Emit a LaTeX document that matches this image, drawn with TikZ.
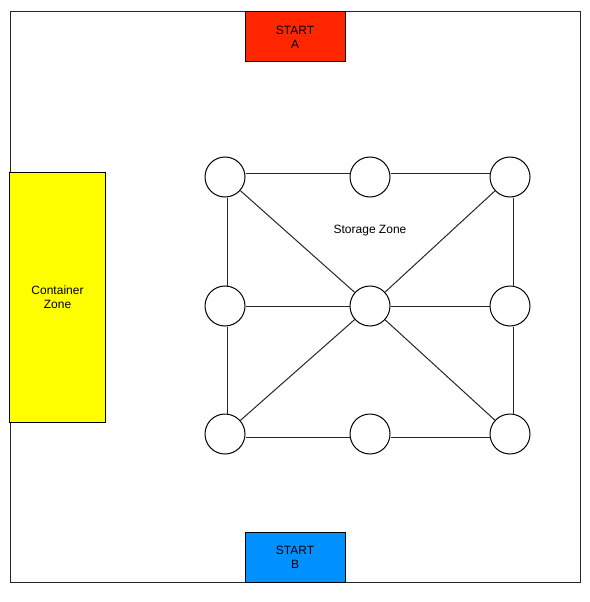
\documentclass[tikz,border=0pt]{standalone}
\usepackage{fontspec}
\setmainfont{Liberation Sans}
\definecolor{startred}{HTML}{FF2600}
\definecolor{startblue}{HTML}{0091FF}
\definecolor{zoneyellow}{HTML}{FFFF00}
\begin{document}
\begin{tikzpicture}[x=1bp,y=-1bp,
  every node/.style={font=\fontsize{12bp}{14bp}\selectfont, align=center},
  box/.style={draw=black, line width=1bp, rectangle, inner sep=0pt},
  spot/.style={draw=black, line width=1bp, circle, fill=white, minimum size=40bp, inner sep=0pt},
  link/.style={draw=black!85, line width=1bp}]
\useasboundingbox (0,0) rectangle (590,602);
\draw[line width=1bp, draw=black!85] (10,12) rectangle (580,582);
% zones
\node[box, fill=startred, minimum width=100bp, minimum height=50bp] (startA) at (295,37) {START\\A};
\node[box, fill=startblue, minimum width=100bp, minimum height=50bp] (startB) at (295,557) {START\\B};
\node[box, fill=zoneyellow, minimum width=95bp, minimum height=249bp] (container) at (57.5,297.5) {Container\\Zone};
\node (storage) at (370,231) {Storage Zone};
% spots
\node[spot] (tl) at (225,177) {};
\node[spot] (tm) at (370,177) {};
\node[spot] (tr) at (510,177) {};
\node[spot] (ml) at (225,306) {};
\node[spot] (mm) at (370,306) {};
\node[spot] (mr) at (510,306) {};
\node[spot] (bl) at (225,434) {};
\node[spot] (bm) at (370,434) {};
\node[spot] (br) at (510,434) {};
% links
\draw[link] ([yshift=4bp]tl.east) -- ([yshift=4bp]tm.west);
\draw[link] ([yshift=4bp]tm.east) -- ([yshift=4bp]tr.west);
\draw[link] (ml) -- (mm);
\draw[link] (mm) -- (mr);
\draw[link] ([yshift=-3.5bp]bl.east) -- ([yshift=-3.5bp]bm.west);
\draw[link] ([yshift=-3.5bp]bm.east) -- ([yshift=-3.5bp]br.west);
\draw[link] ([xshift=2.5bp]tl.south) -- ([xshift=2.5bp]ml.north);
\draw[link] ([xshift=2.5bp]ml.south) -- ([xshift=2.5bp]bl.north);
\draw[link] ([xshift=3bp]tr.south) -- ([xshift=3bp]mr.north);
\draw[link] ([xshift=3bp]mr.south) -- ([xshift=3bp]br.north);
\draw[link] (tl) -- (mm);
\draw[link] (tr) -- (mm);
\draw[link] (bl) -- (mm);
\draw[link] (br) -- (mm);
\end{tikzpicture}
\end{document}
